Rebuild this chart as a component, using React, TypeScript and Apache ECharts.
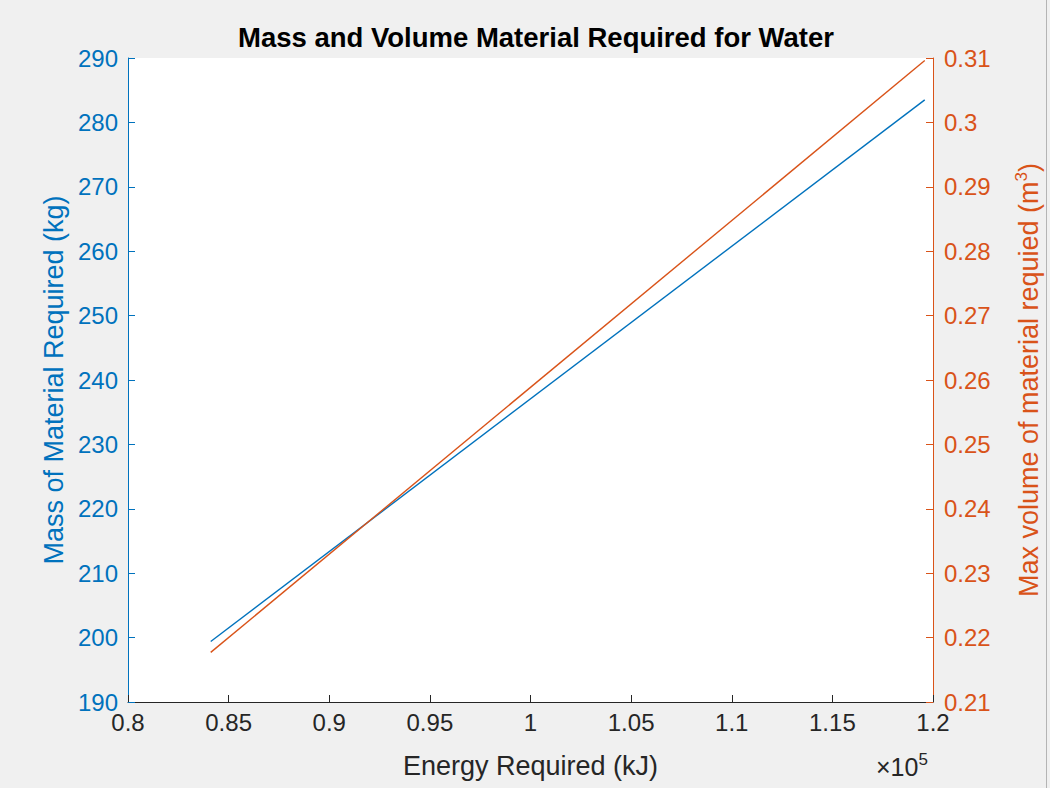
import React, { useEffect, useRef } from "react";
import * as echarts from "echarts";

const energy = [84110, 119590];
const mass = [199.4, 283.5];
const volume = [0.2177, 0.3096];
const xTicks = [80000, 120000, 5000];
const massTicks = [190, 290, 10];
const volTicks = [0.21, 0.31, 0.01];

const BLUE = "#0072BD";
const ORANGE = "#D95319";
const DARK = "#262626";
const FONT = "Liberation Sans";
const TICK_FS = 24;
const LABEL_FS = 27;

export default function App() {
  const ref = useRef<HTMLDivElement>(null);
  useEffect(() => {
    const chart = echarts.init(ref.current!, null, { renderer: "svg" });
    chart.setOption({
      animation: false,
      backgroundColor: "#f0f0f0",
      textStyle: { fontFamily: FONT },
      title: {
        text: "Mass and Volume Material Required for Water",
        left: 531,
        textAlign: "center",
        top: 18,
        textStyle: { fontSize: 27.5, fontWeight: "bold", color: "#000", fontFamily: FONT },
      },
      grid: {
        left: 128,
        right: 115,
        top: 58,
        bottom: 86,
        show: true,
        backgroundColor: "#ffffff",
        borderWidth: 0,
      },
      xAxis: {
        type: "value",
        min: xTicks[0],
        max: xTicks[1],
        interval: xTicks[2],
        name: "Energy Required (kJ)",
        nameLocation: "middle",
        nameGap: 50,
        nameTextStyle: { fontSize: LABEL_FS, color: DARK, fontFamily: FONT },
        axisLine: { show: true, lineStyle: { color: DARK, width: 1 } },
        axisTick: { show: true, inside: true, length: 7, lineStyle: { color: DARK } },
        axisLabel: {
          fontSize: TICK_FS,
          color: DARK,
          margin: 8,
          formatter: (v: number) => String(+(v / 1e5).toFixed(2)),
        },
        splitLine: { show: false },
      },
      yAxis: [
        {
          type: "value",
          position: "left",
          min: massTicks[0],
          max: massTicks[1],
          interval: massTicks[2],
          name: "Mass of Material Required (kg)",
          nameLocation: "middle",
          nameGap: 59,
          nameTextStyle: { fontSize: LABEL_FS, color: BLUE, fontFamily: FONT },
          axisLine: { show: true, lineStyle: { color: BLUE, width: 1 } },
          axisTick: { show: true, inside: true, length: 7, lineStyle: { color: BLUE } },
          axisLabel: { fontSize: TICK_FS, color: BLUE, margin: 10 },
          splitLine: { show: false },
        },
        {
          type: "value",
          position: "right",
          min: volTicks[0],
          max: volTicks[1],
          interval: volTicks[2],
          name: "{n|Max volume of material requied (m}{sup|3}{n|)}",
          nameLocation: "middle",
          nameGap: 80,
          nameRotate: 90,
          nameTextStyle: {
            color: ORANGE,
            fontFamily: FONT,
            rich: {
              n: { fontSize: LABEL_FS, color: ORANGE, fontFamily: FONT },
              sup: { fontSize: 17, color: ORANGE, fontFamily: FONT, padding: [0, 0, 14, 0] },
            },
          },
          axisLine: { show: true, lineStyle: { color: ORANGE, width: 1 } },
          axisTick: { show: true, inside: true, length: 7, lineStyle: { color: ORANGE } },
          axisLabel: {
            fontSize: TICK_FS,
            color: ORANGE,
            margin: 11,
            formatter: (v: number) => String(+v.toFixed(2)),
          },
          splitLine: { show: false },
        },
      ],
      series: [
        {
          type: "line",
          yAxisIndex: 0,
          data: energy.map((e, i) => [e, mass[i]]),
          showSymbol: false,
          lineStyle: { color: BLUE, width: 1.4 },
          itemStyle: { color: BLUE },
        },
        {
          type: "line",
          yAxisIndex: 1,
          data: energy.map((e, i) => [e, volume[i]]),
          showSymbol: false,
          lineStyle: { color: ORANGE, width: 1.4 },
          itemStyle: { color: ORANGE },
        },
      ],
      graphic: [
        {
          type: "text",
          left: 876,
          top: 751,
          style: {
            text: "{n|×10}{sup|5}",
            rich: {
              n: { fontSize: 25, fill: DARK, fontFamily: FONT },
              sup: { fontSize: 17, fill: DARK, fontFamily: FONT, padding: [0, 0, 15, 0] },
            },
          },
        },
        {
          type: "line",
          shape: { x1: 1046.5, y1: 0, x2: 1046.5, y2: 788 },
          style: { stroke: "#b4b4b4", lineWidth: 1 },
        },
      ],
    });
    return () => chart.dispose();
  }, []);
  return (
    <div
      ref={ref}
      style={{ position: "fixed", left: 0, top: 0, width: 1050, height: 788 }}
    />
  );
}
